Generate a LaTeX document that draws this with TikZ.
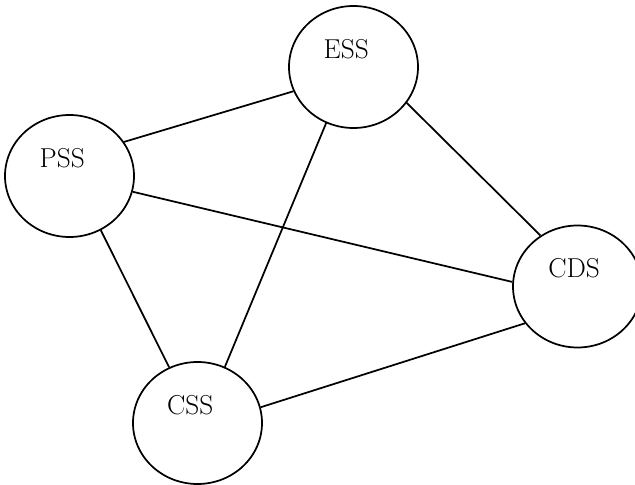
\documentclass[tikz,border=0pt]{standalone}
\usetikzlibrary{shapes.geometric}
\tikzstyle{vertex}=[
	draw=black,
	shape=ellipse,
	minimum width=96.75pt,
	minimum height=91.5pt,
	inner sep=0pt,
	line width=1.3pt
]
\tikzstyle{tag}=[font=\fontsize{20.5}{24}\selectfont, xshift=-5.5pt, yshift=13.5pt]
\tikzstyle{pstyle} = [line width=1.3pt]

\begin{document}
\begin{tikzpicture}[x=0.75pt,y=0.75pt]
			\useasboundingbox (0,0) rectangle (635,485);
			
			\node[vertex, label={[tag]center:ESS}]	(ESS) at (353.5,418) {};
			\node[vertex, label={[tag]center:PSS}]	(PSS) at (69.5,309) {};
			\node[vertex, label={[tag, xshift=3pt]center:CDS}]	(CDS) at (577.5,198.5) {};
			\node[vertex, label={[tag]center:CSS}]	(CSS) at (197.5,62) {};
			
			\path[pstyle] 
				(PSS.32) edge (ESS.202)
				(PSS.346) edge (CDS.176)
				(PSS.300) edge (CSS.117)
				(ESS.244) edge (CSS.64)
				(ESS.326) edge (CDS.126)
				(CSS.14) edge (CDS.215);
			
\end{tikzpicture}
\end{document}
